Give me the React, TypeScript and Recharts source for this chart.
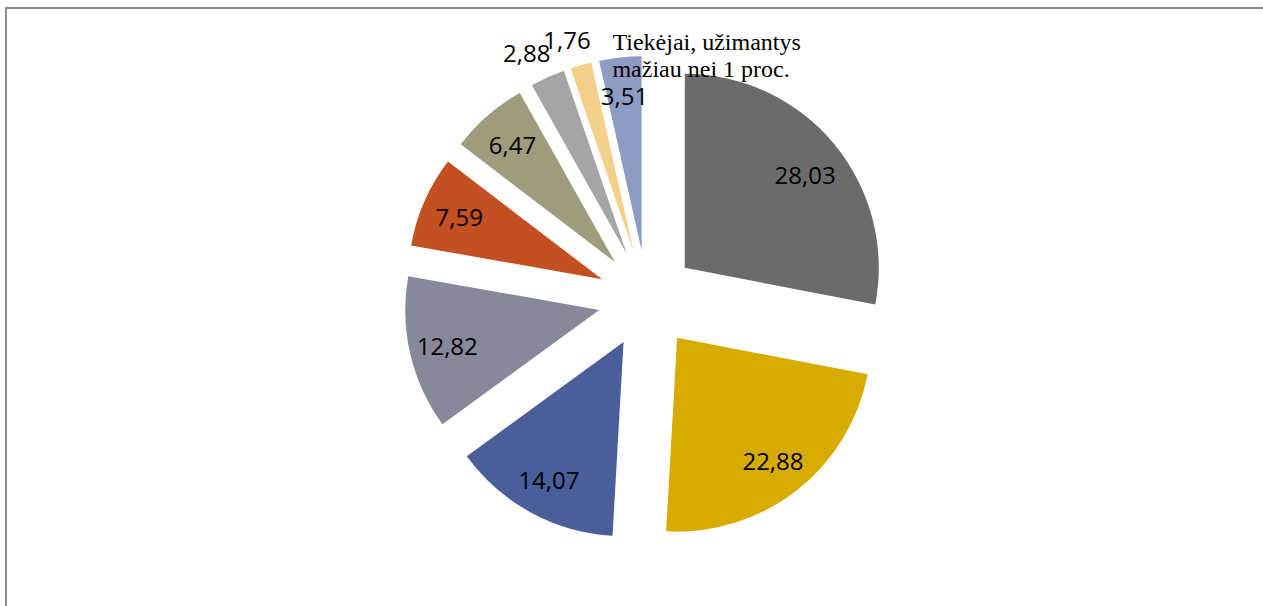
import { PieChart, Pie, Sector } from "recharts";

// supplier shares, %, clockwise from 12 o'clock
const suppliers = [
  "Tiekėjas A",
  "Tiekėjas B",
  "Tiekėjas C",
  "Tiekėjas D",
  "Tiekėjas E",
  "Tiekėjas F",
  "Tiekėjas G",
  "Tiekėjas H",
  "Tiekėjai, užimantys mažiau nei 1 proc.",
];
const shares = [28.03, 22.88, 14.07, 12.82, 7.59, 6.47, 2.88, 1.76, 3.51];
const colors = [
  "#6b6b6b",
  "#d8ab00",
  "#4a5f9a",
  "#87889a",
  "#c44f20",
  "#9e9c7d",
  "#a5a5a5",
  "#f5d08a",
  "#8e9cc5",
];
const otherLines = ["Tiekėjai, užimantys", "mažiau nei 1 proc."];

const data = suppliers.map((name, i) => ({ name, value: shares[i], fill: colors[i] }));

const RAD = Math.PI / 180;
const EXPLODE = 49;

const fmt = (v: number) => v.toFixed(2).replace(".", ",");

function ExplodedSector(props: any) {
  const { cx, cy, midAngle } = props;
  const dx = EXPLODE * Math.cos(-midAngle * RAD);
  const dy = EXPLODE * Math.sin(-midAngle * RAD);
  return <Sector {...props} cx={cx + dx} cy={cy + dy} stroke="none" />;
}

function renderLabel(props: any) {
  const { cx, cy, midAngle, index, value } = props;
  const cos = Math.cos(-midAngle * RAD);
  const sin = Math.sin(-midAngle * RAD);
  const text = fmt(value);
  // tiny slices get their value outside the pie
  const outside = value < 3 && index !== shares.length - 1;
  const r = outside ? 270 : 205;
  const x = cx + r * cos + (outside ? cos * text.length * 6 : 0);
  const y = cy + r * sin + (index === 0 ? 6 : 0);
  return (
    <g key={`lbl-${index}`}>
      <text
        x={x}
        y={y}
        textAnchor="middle"
        dominantBaseline="central"
        fill="#000"
        fontSize={24}
        fontFamily="'Open Sans', sans-serif"
      >
        {text}
      </text>
      {index === shares.length - 1 && (
        <text
          x={x - 12}
          y={y - 45}
          fill="#000"
          fontSize={24}
          fontFamily="'Liberation Serif', 'Times New Roman', serif"
        >
          <tspan x={x - 12}>{otherLines[0]}</tspan>
          <tspan x={x - 12} dy={27}>
            {otherLines[1]}
          </tspan>
        </text>
      )}
    </g>
  );
}

export default function App() {
  return (
    <div
      style={{
        position: "absolute",
        left: 0,
        top: 0,
        width: 1263,
        height: 606,
        overflow: "hidden",
        background: "#fff",
      }}
    >
      <div
        style={{
          position: "absolute",
          left: 5,
          top: 7,
          width: 1400,
          height: 700,
          borderLeft: "2px solid #8c8c8c",
          borderTop: "2px solid #8c8c8c",
        }}
      />
      <div style={{ position: "absolute", left: 0, top: 0 }}>
        <PieChart width={1263} height={606}>
          <Pie
            data={data}
            dataKey="value"
            nameKey="name"
            cx={642}
            cy={294}
            outerRadius={194}
            startAngle={90}
            endAngle={-270}
            stroke="none"
            shape={ExplodedSector}
            label={renderLabel}
            labelLine={false}
            isAnimationActive={false}
          />
        </PieChart>
      </div>
    </div>
  );
}
